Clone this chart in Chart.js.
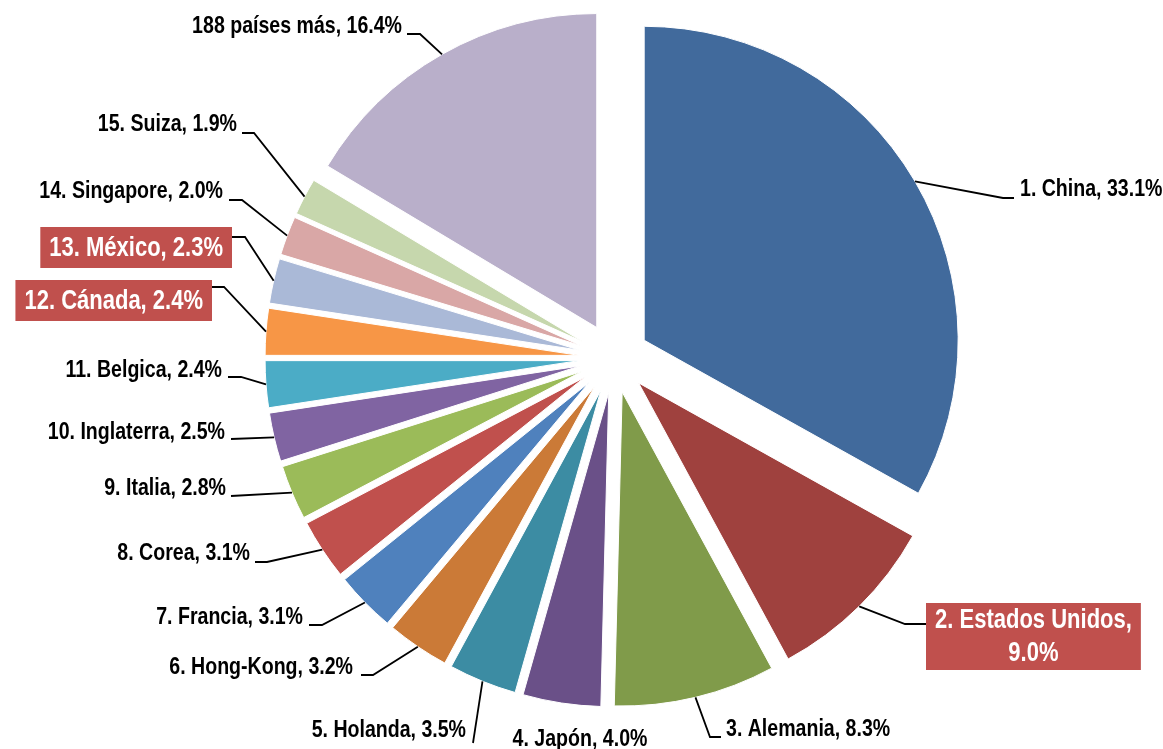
<!DOCTYPE html>
<html><head><meta charset="utf-8">
<script src="https://cdn.jsdelivr.net/npm/chart.js@4.4.1/dist/chart.umd.min.js"></script>
<style>html,body{margin:0;padding:0;background:#fff;overflow:hidden}canvas{display:block}</style>
</head><body>
<canvas id="c" width="1163" height="749"></canvas>
<script>
// ---- data ----
const categories = ['1. China','2. Estados Unidos','3. Alemania','4. Japón','5. Holanda','6. Hong-Kong','7. Francia','8. Corea','9. Italia','10. Inglaterra','11. Belgica','12. Cánada','13. México','14. Singapore','15. Suiza','188 países más'];
const shares = [33.1, 9.0, 8.3, 4.0, 3.5, 3.2, 3.1, 3.1, 2.8, 2.5, 2.4, 2.4, 2.3, 2.0, 1.9, 16.4];
const highlighted = ['2. Estados Unidos', '12. Cánada', '13. México'];
const sliceColors = ['#416a9c','#9f413e','#809b4a','#6a5088','#3c8ca3','#cb7a37','#4f81bd','#c0504d','#9bbb59','#8064a2','#4bacc6','#f79646','#aab9d7','#d9a7a6','#c6d7ad','#b9afca'];

// ---- label layout (leader elbows, text anchors) ----
const labelLayout = [
  {pts:[[1003,198],[1014,198]], tx:1020, ty:189, align:'left'},
  {pts:[[905,624],[926,624]], tx:926, ty:603, align:'box-left', lines:2},
  {pts:[[710,737],[721,737]], tx:726, ty:729, align:'left'},
  {pts:[], tx:580, ty:739, align:'center'},
  {pts:[[473,743]], tx:466, ty:730, align:'right'},
  {pts:[[373,675],[361,675]], tx:353, ty:667, align:'right'},
  {pts:[[322,625],[309,625]], tx:303, ty:617, align:'right'},
  {pts:[[267,562],[255,562]], tx:250, ty:553, align:'right'},
  {pts:[[231,496]], tx:226, ty:488, align:'right'},
  {pts:[[231,439]], tx:225, ty:432, align:'right'},
  {pts:[[241,377],[228,377]], tx:222, ty:370, align:'right'},
  {pts:[[224,287],[212,287]], tx:212, ty:280, align:'box-right'},
  {pts:[[245,237],[232,237]], tx:232, ty:227, align:'box-right'},
  {pts:[[242,200],[229,200]], tx:223, ty:191, align:'right'},
  {pts:[[254,133],[242,133]], tx:237, ty:124, align:'right'},
  {pts:[[420,34],[407,34]], tx:402, ty:26, align:'right'}
];
const EXPLODE = 35;
const NARROW = 0.815;
const FAMILY = '"Liberation Sans", Arial, sans-serif';

function narrowWidth(ctx, text, size) {
  ctx.font = 'bold ' + size + 'px ' + FAMILY;
  return ctx.measureText(text).width * NARROW;
}
function narrowText(ctx, text, x, y, size, align) {
  const w = narrowWidth(ctx, text, size);
  let left = x;
  if (align === 'right') left = x - w;
  else if (align === 'center') left = x - w / 2;
  ctx.save();
  ctx.translate(left, y);
  ctx.scale(NARROW, 1);
  ctx.textAlign = 'left';
  ctx.textBaseline = 'middle';
  ctx.fillText(text, 0, 0);
  ctx.restore();
}

const explodePlugin = {
  id: 'explode',
  beforeDatasetsDraw(chart) {
    const a = chart.chartArea;
    const cx = (a.left + a.right) / 2, cy = (a.top + a.bottom) / 2;
    chart.getDatasetMeta(0).data.forEach(arc => {
      const mid = (arc.startAngle + arc.endAngle) / 2;
      arc.x = cx + EXPLODE * Math.cos(mid);
      arc.y = cy + EXPLODE * Math.sin(mid);
    });
  }
};

const labelPlugin = {
  id: 'sliceLabels',
  afterDatasetsDraw(chart) {
    const ctx = chart.ctx;
    const meta = chart.getDatasetMeta(0);
    meta.data.forEach((arc, i) => {
      const L = labelLayout[i];
      const mid = (arc.startAngle + arc.endAngle) / 2;
      const sx = arc.x + arc.outerRadius * Math.cos(mid);
      const sy = arc.y + arc.outerRadius * Math.sin(mid);
      ctx.save();
      if (L.pts.length) {
        ctx.beginPath();
        ctx.moveTo(sx, sy);
        L.pts.forEach(p => ctx.lineTo(p[0], p[1]));
        ctx.strokeStyle = '#000';
        ctx.lineWidth = 1.8;
        ctx.stroke();
      }
      const val = shares[i].toFixed(1) + '%';
      const name = categories[i];
      const isHi = highlighted.includes(name);
      if (isHi) {
        const size = 27;
        const lines = L.lines === 2 ? [name + ',', val] : [name + ', ' + val];
        const w = Math.max(...lines.map(t => narrowWidth(ctx, t, size))) + 18;
        const lh = 33;
        const h = lines.length === 2 ? 67 : 41;
        const bx = L.align === 'box-right' ? L.tx - w : L.tx;
        ctx.fillStyle = '#c0504d';
        ctx.fillRect(bx, L.ty, w, h);
        ctx.fillStyle = '#fff';
        const y0 = L.ty + h / 2 - (lines.length - 1) * lh / 2 + 1;
        lines.forEach((t, k) => narrowText(ctx, t, bx + w / 2, y0 + k * lh, size, 'center'));
      } else {
        ctx.fillStyle = '#000';
        narrowText(ctx, name + ', ' + val, L.tx, L.ty, 24, L.align);
      }
      ctx.restore();
    });
  }
};

new Chart(document.getElementById('c'), {
  type: 'pie',
  data: {
    labels: categories,
    datasets: [{
      data: shares,
      backgroundColor: sliceColors,
      borderColor: '#ffffff',
      borderWidth: 1
    }]
  },
  options: {
    responsive: false,
    animation: false,
    devicePixelRatio: 1,
    radius: 314,
    rotation: 0,
    layout: {padding: {left: 65, right: 0, top: 0, bottom: 33}},
    plugins: {legend: {display: false}, tooltip: {enabled: false}}
  },
  plugins: [explodePlugin, labelPlugin]
});
</script>
</body></html>
